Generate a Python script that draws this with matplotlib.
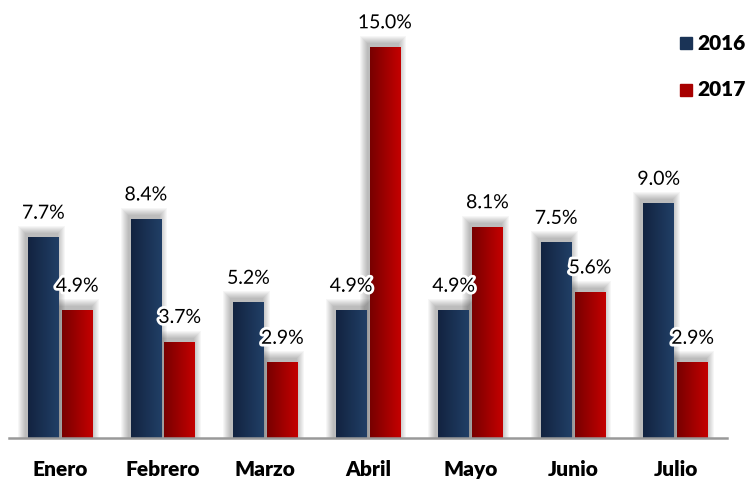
import matplotlib.pyplot as plt
import matplotlib.patheffects as pe
from matplotlib.patches import Rectangle
import numpy as np

meses = ["Enero", "Febrero", "Marzo", "Abril", "Mayo", "Junio", "Julio"]
v2016 = [7.7, 8.4, 5.2, 4.9, 4.9, 7.5, 9.0]
v2017 = [4.9, 3.7, 2.9, 15.0, 8.1, 5.6, 2.9]

plt.rcParams['font.family'] = ['Lato', 'DejaVu Sans']

fig = plt.figure(figsize=(7.53, 4.79), dpi=100)
ax = fig.add_axes([9/753, 41/479, 718/753, 438/479])
ax.set_xlim(-0.5, 6.5)
ax.set_ylim(0, 438/26.07)

w = 0.30
off = 0.165
x = np.arange(len(meses))
px = 7/718        # one pixel in x data units
py = 1/26.07      # one pixel in y data units

def grad_bar(xc, h, c1, c2):
    # soft shadow, shifted up-left
    for k in range(8, 0, -1):
        ax.add_patch(Rectangle((xc - w/2 - k*px - 2*px, 0),
                               w + 2*k*px, h + k*py + 3*py,
                               color='black', alpha=0.035, lw=0, zorder=1))
    r = Rectangle((xc - w/2, 0), w, h, lw=0, facecolor='none', zorder=2)
    ax.add_patch(r)
    g = np.linspace(0, 1, 64).reshape(1, -1)
    cmap = plt.matplotlib.colors.LinearSegmentedColormap.from_list('g', [c1, c2])
    im = ax.imshow(g, cmap=cmap, aspect='auto', extent=(xc - w/2, xc + w/2, 0, h),
                   zorder=2)
    im.set_clip_path(r)

glow = [pe.withStroke(linewidth=4, foreground='white')]
for i in range(len(meses)):
    for xc, v, c1, c2 in [(x[i] - off, v2016[i], '#122340', '#213f66'),
                          (x[i] + off, v2017[i], '#780000', '#c40000')]:
        grad_bar(xc, v, c1, c2)
        ax.text(xc, v + 0.6, f"{v:.1f}%", ha='center', va='bottom',
                fontsize=14, color='black', path_effects=glow, zorder=5)

ax.set_xticks(x)
ax.set_xticklabels(meses, fontsize=15, fontweight='heavy')
ax.tick_params(axis='x', length=0, pad=16)
ax.set_yticks([])
for s in ['top', 'right', 'left']:
    ax.spines[s].set_visible(False)
ax.spines['bottom'].set_color('#999999')
ax.spines['bottom'].set_linewidth(1.8)
ax.spines['bottom'].set_zorder(3)

# legend
for yy, lab, c in [(43, "2016", '#1a3356'), (90, "2017", '#a80000')]:
    fig.patches.append(Rectangle((680/753, 1 - (yy + 6)/479), 12/753, 12/479,
                                 transform=fig.transFigure, color=c, figure=fig))
    fig.text(697/753, 1 - yy/479, lab, fontsize=15, fontweight='heavy',
             va='center', ha='left')

fig.savefig("out.png", dpi=100)
